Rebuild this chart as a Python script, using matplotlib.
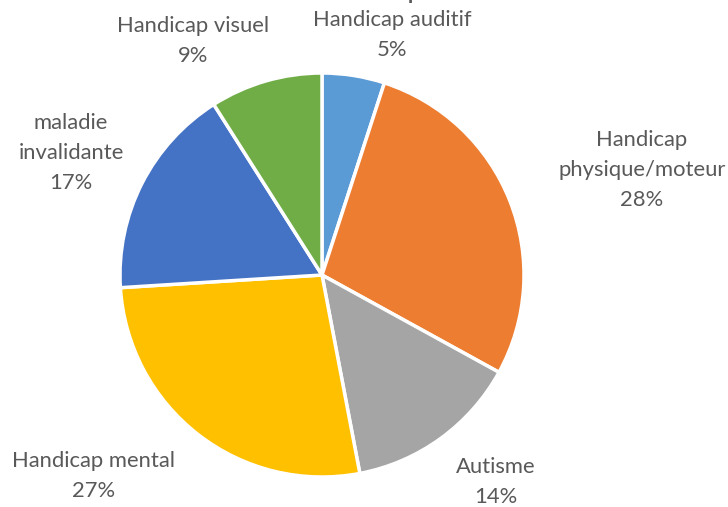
import matplotlib
matplotlib.use("Agg")
import matplotlib.pyplot as plt

categories = ["Handicap auditif", "Handicap\nphysique/moteur", "Autisme",
              "Handicap mental", "maladie\ninvalidante", "Handicap visuel"]
shares = [5, 28, 14, 27, 17, 9]
colors = ["#5B9BD5", "#ED7D31", "#A5A5A5", "#FFC000", "#4472C4", "#70AD47"]

# label anchor points in pixel space (x, y from top)
label_pos = [(392, 35), (642, 170), (496, 482), (94, 476), (71, 153), (193, 41)]

W, H = 728, 507
fig = plt.figure(figsize=(W / 100, H / 100), dpi=100)
ax = fig.add_axes([0, 0, 1, 1])

ax.pie(shares, colors=colors, startangle=90, counterclock=False,
       center=(322, H - 275), radius=202,
       wedgeprops=dict(edgecolor="white", linewidth=2.5))

ax.set_xlim(0, W)
ax.set_ylim(0, H)
ax.set_aspect("equal")
ax.axis("off")

font = dict(family=["Lato", "DejaVu Sans"], size=15.8, color="#595959")
for name, val, (x, y) in zip(categories, shares, label_pos):
    ax.text(x, H - y, f"{name}\n{val}%", ha="center", va="center",
            linespacing=1.62, **font)

# chart title sits above the top edge of the canvas
ax.text(420, H + 1, "Handicap", ha="right", va="baseline",
        fontsize=15, fontweight="bold", color="#595959",
        family=["Lato", "DejaVu Sans"], clip_on=False)

fig.savefig("out.png", dpi=100)
